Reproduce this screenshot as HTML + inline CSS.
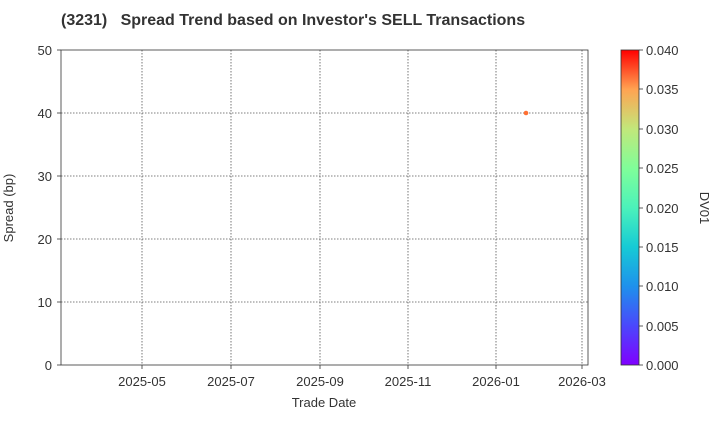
<!DOCTYPE html>
<html><head><style>body{margin:0;background:#fff}svg{font-family:"Liberation Sans",Arial,sans-serif}</style></head><body>
<svg width="720" height="420" xmlns="http://www.w3.org/2000/svg">
<defs><linearGradient id="g" x1="0" y1="1" x2="0" y2="0">
<stop offset="0" stop-color="#8000ff"/><stop offset="0.125" stop-color="#4a48fc"/><stop offset="0.25" stop-color="#1e91ec"/><stop offset="0.375" stop-color="#16cbd5"/><stop offset="0.5" stop-color="#4cf2ba"/><stop offset="0.625" stop-color="#80fe99"/><stop offset="0.75" stop-color="#c2e77a"/><stop offset="0.875" stop-color="#ffa352"/><stop offset="1" stop-color="#ff0000"/></linearGradient></defs>
<text x="61" y="25" font-size="16" font-weight="bold" fill="#333" style="white-space:pre">(3231)   Spread Trend based on Investor's SELL Transactions</text>
<g stroke="#555" stroke-dasharray="1.5,1.5" stroke-width="0.8">
<line x1="142" y1="50" x2="142" y2="365"/><line x1="231" y1="50" x2="231" y2="365"/><line x1="320" y1="50" x2="320" y2="365"/><line x1="408" y1="50" x2="408" y2="365"/><line x1="496" y1="50" x2="496" y2="365"/><line x1="582" y1="50" x2="582" y2="365"/>
<line x1="61" y1="302" x2="588" y2="302"/><line x1="61" y1="239" x2="588" y2="239"/><line x1="61" y1="176" x2="588" y2="176"/><line x1="61" y1="113" x2="588" y2="113"/>
</g>
<g stroke="#333" stroke-width="0.8">
<line x1="142" y1="365" x2="142" y2="369"/><line x1="231" y1="365" x2="231" y2="369"/><line x1="320" y1="365" x2="320" y2="369"/><line x1="408" y1="365" x2="408" y2="369"/><line x1="496" y1="365" x2="496" y2="369"/><line x1="582" y1="365" x2="582" y2="369"/>
<line x1="57" y1="365" x2="61" y2="365"/><line x1="57" y1="302" x2="61" y2="302"/><line x1="57" y1="239" x2="61" y2="239"/><line x1="57" y1="176" x2="61" y2="176"/><line x1="57" y1="113" x2="61" y2="113"/><line x1="57" y1="50" x2="61" y2="50"/>
<line x1="639" y1="365" x2="643" y2="365"/><line x1="639" y1="326" x2="643" y2="326"/><line x1="639" y1="286" x2="643" y2="286"/><line x1="639" y1="247" x2="643" y2="247"/><line x1="639" y1="208" x2="643" y2="208"/><line x1="639" y1="168" x2="643" y2="168"/><line x1="639" y1="129" x2="643" y2="129"/><line x1="639" y1="89" x2="643" y2="89"/><line x1="639" y1="50" x2="643" y2="50"/>
</g>
<rect x="61" y="50" width="527" height="315" fill="none" stroke="#333" stroke-width="0.8"/>
<g font-size="13" fill="#333" text-anchor="end">
<text x="52" y="370">0</text><text x="52" y="307">10</text><text x="52" y="244">20</text><text x="52" y="181">30</text><text x="52" y="118">40</text><text x="52" y="55">50</text></g>
<g font-size="13" fill="#333" text-anchor="middle">
<text x="142" y="386">2025-05</text><text x="231" y="386">2025-07</text><text x="320" y="386">2025-09</text><text x="408" y="386">2025-11</text><text x="496" y="386">2026-01</text><text x="582" y="386">2026-03</text>
<text x="324" y="407">Trade Date</text></g>
<text transform="translate(13,208) rotate(-90)" font-size="13" fill="#333" text-anchor="middle">Spread (bp)</text>
<circle cx="526" cy="113" r="2.3" fill="#ff7033"/>
<rect x="621" y="50" width="18" height="315" fill="url(#g)" stroke="#333" stroke-width="0.8"/>
<g font-size="13" fill="#333">
<text x="646" y="370">0.000</text><text x="646" y="331">0.005</text><text x="646" y="291">0.010</text><text x="646" y="252">0.015</text><text x="646" y="213">0.020</text><text x="646" y="173">0.025</text><text x="646" y="134">0.030</text><text x="646" y="94">0.035</text><text x="646" y="55">0.040</text></g>
<text transform="translate(700,208) rotate(90)" font-size="13" fill="#333" text-anchor="middle">DV01</text>
</svg></body></html>
